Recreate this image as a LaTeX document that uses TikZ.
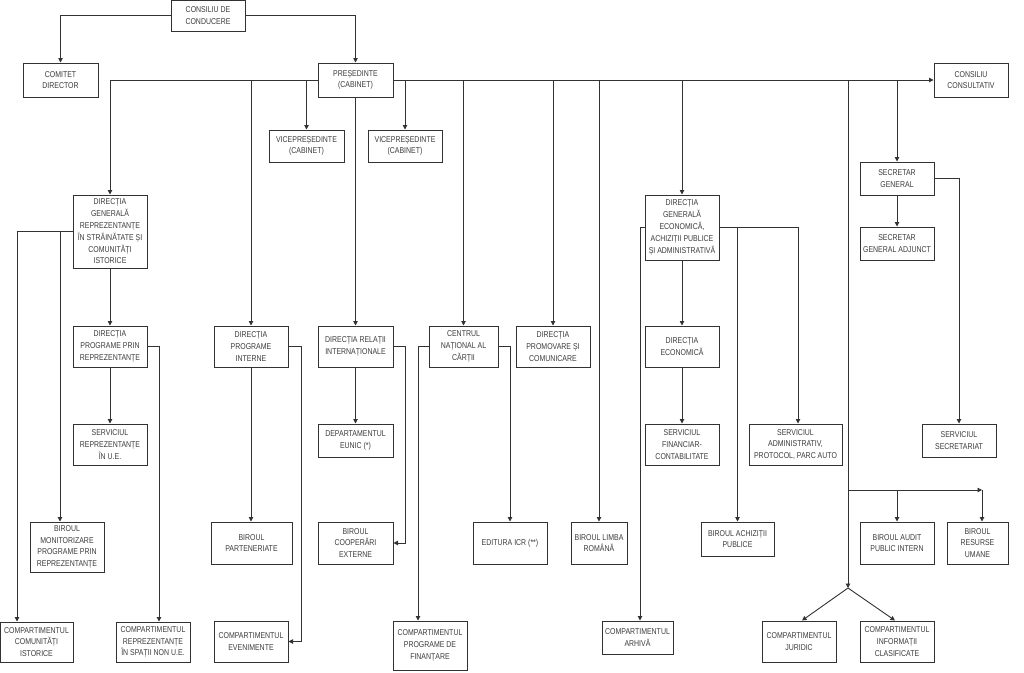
\documentclass[tikz,border=0pt]{standalone}
\usepackage{fontspec}
\setmainfont{Liberation Sans}[FakeStretch=0.82]
\usetikzlibrary{arrows.meta}
\definecolor{ln}{RGB}{50,50,50}
\definecolor{tx}{RGB}{60,60,60}
\tikzset{
 box/.style={draw=ln, line width=1pt, rectangle, inner sep=0pt, align=center, text=tx, font=\fontsize{8.5}{11.8}\selectfont},
 conn/.style={draw=ln, line width=0.9pt, -{Triangle[length=4.5pt,width=4.5pt]}},
}
\newcommand\orgbox[6]{\node[box, minimum width={(#4-#2)*1pt}, minimum height={(#5-#3)*1pt}] (#1) at ({(#2+#4)/2},{(#3+#5)/2}) {#6};}
\begin{document}
\begin{tikzpicture}[x=1pt,y=-1pt]
\fill[white] (0,0) rectangle (1024,672);
\useasboundingbox (0,0) rectangle (1024,672);
% boxes
\orgbox{cdc}{171}{0}{245}{31}{CONSILIU DE\\CONDUCERE}
\orgbox{cd}{23}{63}{98}{97}{COMITET\\DIRECTOR}
\orgbox{pres}{318}{63}{393}{97}{PREȘEDINTE\\(CABINET)}
\orgbox{cc}{934}{63}{1008}{97}{CONSILIU\\CONSULTATIV}
\orgbox{vp1}{269}{130}{344}{162}{VICEPREȘEDINTE\\(CABINET)}
\orgbox{vp2}{368}{130}{442}{162}{VICEPREȘEDINTE\\(CABINET)}
\orgbox{dgr}{73}{195}{147}{268}{DIRECȚIA\\GENERALĂ\\REPREZENTANȚE\\ÎN STRĂINĂTATE ȘI\\COMUNITĂȚI\\ISTORICE}
\orgbox{dppr}{73}{326}{147}{367}{DIRECȚIA\\PROGRAME PRIN\\REPREZENTANȚE}
\orgbox{sru}{73}{424}{147}{465}{SERVICIUL\\REPREZENTANȚE\\ÎN U.E.}
\orgbox{bm}{30}{522}{104}{572}{BIROUL\\MONITORIZARE\\PROGRAME PRIN\\REPREZENTANȚE}
\orgbox{cci}{0}{622}{73}{662}{COMPARTIMENTUL\\COMUNITĂȚI\\ISTORICE}
\orgbox{crsnue}{116}{622}{190}{662}{COMPARTIMENTUL\\REPREZENTANȚE\\ÎN SPAȚII NON U.E.}
\orgbox{dpi}{214}{326}{288}{367}{DIRECȚIA\\PROGRAME\\INTERNE}
\orgbox{bp}{211}{522}{292}{564}{BIROUL\\PARTENERIATE}
\orgbox{ce}{214}{621}{288}{662}{COMPARTIMENTUL\\EVENIMENTE}
\orgbox{dri}{318}{326}{393}{367}{DIRECȚIA RELAȚII\\INTERNAȚIONALE}
\orgbox{eunic}{318}{424}{393}{457}{DEPARTAMENTUL\\EUNIC (*)}
\orgbox{bce}{318}{522}{393}{564}{BIROUL\\COOPERĂRI\\EXTERNE}
\orgbox{cnc}{429}{326}{498}{367}{CENTRUL\\NAȚIONAL AL\\CĂRȚII}
\orgbox{cpf}{393}{621}{467}{670}{COMPARTIMENTUL\\PROGRAME DE\\FINANȚARE}
\orgbox{editura}{473}{522}{547}{564}{EDITURA ICR (**)}
\orgbox{dpc}{516}{326}{590}{367}{DIRECȚIA\\PROMOVARE ȘI\\COMUNICARE}
\orgbox{blr}{571}{522}{627}{564}{BIROUL LIMBA\\ROMÂNĂ}
\orgbox{dge}{645}{195}{719}{260}{DIRECȚIA\\GENERALĂ\\ECONOMICĂ,\\ACHIZIȚII PUBLICE\\ȘI ADMINISTRATIVĂ}
\orgbox{de}{645}{326}{719}{367}{DIRECȚIA\\ECONOMICĂ}
\orgbox{sfc}{645}{424}{719}{465}{SERVICIUL\\FINANCIAR-\\CONTABILITATE}
\orgbox{sapa}{749}{424}{842}{465}{SERVICIUL\\ADMINISTRATIV,\\PROTOCOL, PARC AUTO}
\orgbox{bap}{701}{522}{774}{556}{BIROUL ACHIZIȚII\\PUBLICE}
\orgbox{ca}{602}{621}{673}{654}{COMPARTIMENTUL\\ARHIVĂ}
\orgbox{sg}{860}{162}{934}{195}{SECRETAR\\GENERAL}
\orgbox{sga}{860}{227}{934}{260}{SECRETAR\\GENERAL ADJUNCT}
\orgbox{ss}{922}{424}{996}{457}{SERVICIUL\\SECRETARIAT}
\orgbox{bapi}{860}{522}{934}{564}{BIROUL AUDIT\\PUBLIC INTERN}
\orgbox{bru}{947}{522}{1008}{564}{BIROUL\\RESURSE\\UMANE}
\orgbox{cj}{762}{621}{836}{662}{COMPARTIMENTUL\\JURIDIC}
\orgbox{cic}{860}{621}{934}{662}{COMPARTIMENTUL\\INFORMAȚII\\CLASIFICATE}
% top connectors
\draw[conn] (cdc.west) -| (cd.north);
\draw[conn] (cdc.east) -| (pres.north);
\draw[conn] (pres.west) -| (dgr.north);
\draw[conn] (dpi.north |- pres.west) -- (dpi.north);
\draw[conn] (vp1.north |- pres.west) -- (vp1.north);
\draw[conn] (pres.south) -- (dri.north);
\draw[conn] (pres.east) -- (cc.west);
\foreach \n in {vp2,cnc,dpc,blr,dge,sg} \draw[conn] (\n.north |- pres.east) -- (\n.north);
% right group
\coordinate (jn) at (848,588);
\coordinate (hb) at (848,490);
\coordinate (he) at (982,490);
\draw[conn] (jn |- pres.east) -- (jn);
\draw[conn] (hb) -- (he);
\draw[conn] (he) -- (he |- bru.north);
\draw[conn] (bapi.north |- hb) -- (bapi.north);
\draw[conn] (jn) -- ([xshift=3pt]cj.north);
\draw[conn] (jn) -- ([xshift=-2pt]cic.north);
\draw[conn] (sg.south) -- (sga.north);
\draw[conn] (sg.east) -| (ss.north);
% left group
\coordinate (cciT) at ([xshift=-19.5pt]cci.north);
\draw[conn] (dgr.west) -| (cciT);
\coordinate (bmT) at ([xshift=-7pt]bm.north);
\draw[conn] (bmT |- dgr.west) -- (bmT);
\draw[conn] (dgr.south) -- (dppr.north);
\draw[conn] (dppr.south) -- (sru.north);
\coordinate (crT) at ([xshift=6pt]crsnue.north);
\draw[conn] (dppr.east) -| (crT);
\draw[conn] (dpi.south) -- (dpi.south |- bp.north);
\draw[conn] (dpi.east) -- ++(13,0) |- (ce.east);
\draw[conn] (dri.south) -- (eunic.north);
\draw[conn] (dri.east) -- ++(12,0) |- (bce.east);
\coordinate (cpfT) at ([xshift=-12pt]cpf.north);
\draw[conn] (cnc.west) -| (cpfT);
\draw[conn] (cnc.east) -| (editura.north);
% economic
\draw[conn] (dge.south) -- (de.north);
\draw[conn] (de.south) -- (sfc.north);
\coordinate (caT) at ([xshift=2.5pt]ca.north);
\draw[conn] (dge.west) -| (caT);
\coordinate (saT) at ([xshift=2.5pt]sapa.north);
\draw[conn] (dge.east) -| (saT);
\draw[conn] (bap.north |- dge.east) -- (bap.north);
\end{tikzpicture}
\end{document}
